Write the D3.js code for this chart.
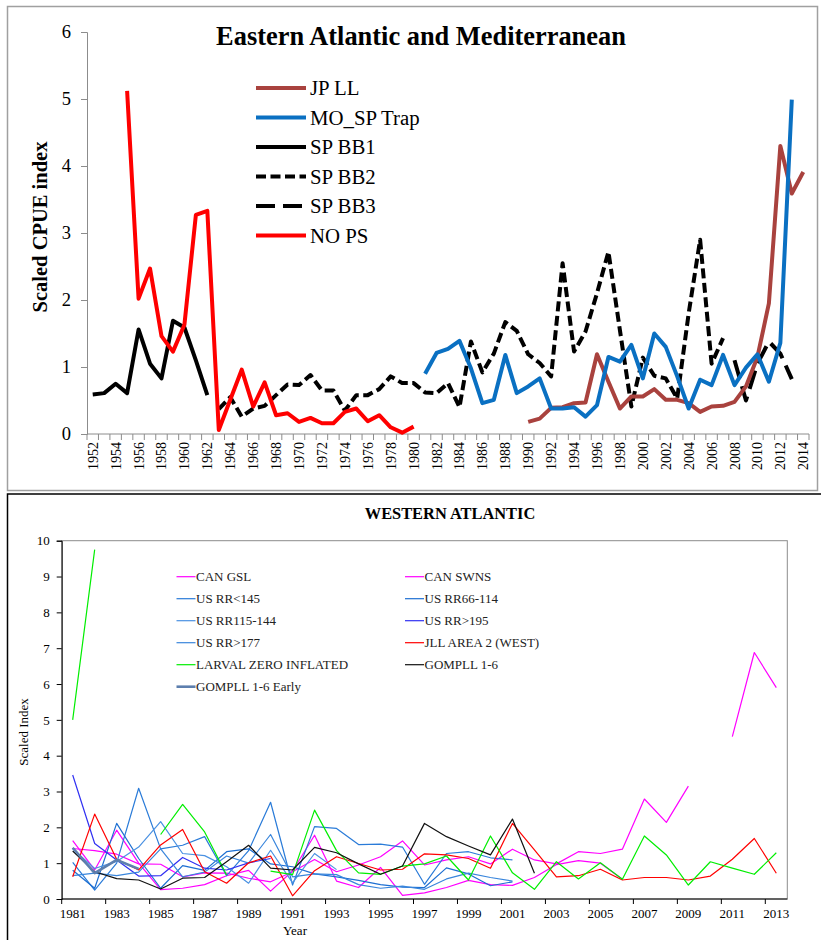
<!DOCTYPE html>
<html>
<head>
  <script src="https://d3js.org/d3.v7.min.js"></script>
  <style>
    body { margin: 0; background: #fff; overflow: hidden; }
    svg { display: block; font-family: "Liberation Serif", "Times New Roman", serif; }
  </style>
  <title>CPUE indices</title>
</head>
<body>
  <script>
    // ---------- Eastern Atlantic and Mediterranean ----------
    const eaYears = [1952,1953,1954,1955,1956,1957,1958,1959,1960,1961,1962,1963,1964,1965,1966,1967,1968,1969,
      1970,1971,1972,1973,1974,1975,1976,1977,1978,1979,1980,1981,1982,1983,1984,1985,1986,1987,1988,1989,
      1990,1991,1992,1993,1994,1995,1996,1997,1998,1999,2000,2001,2002,2003,2004,2005,2006,2007,2008,2009,
      2010,2011,2012,2013,2014];
    const eaTicks = [0, 1, 2, 3, 4, 5, 6];

    // JP LL 1990-2014
    const jpLL = [0.18,0.23,0.39,0.40,0.46,0.47,1.19,0.78,0.38,0.56,0.56,0.67,0.51,0.51,0.46,0.33,0.41,0.42,
      0.48,0.71,1.15,1.95,4.30,3.59,3.91];
    // MO_SP Trap 1981-2013
    const moSPTrap = [0.90,1.21,1.27,1.39,0.98,0.46,0.51,1.18,0.61,0.71,0.83,0.38,0.38,0.40,0.26,0.43,1.15,
      1.08,1.33,0.83,1.50,1.30,0.86,0.38,0.81,0.73,1.18,0.73,0.99,1.19,0.78,1.36,4.99];
    // SP BB1 1952-1962
    const spBB1 = [0.59,0.61,0.75,0.61,1.56,1.05,0.83,1.69,1.59,1.10,0.58];
    // SP BB2 1963-2007
    const spBB2 = [0.37,0.55,0.26,0.38,0.42,0.58,0.74,0.73,0.88,0.65,0.65,0.35,0.58,0.58,0.67,0.86,0.76,0.76,
      0.62,0.61,0.76,0.40,1.38,0.92,1.20,1.67,1.54,1.19,1.06,0.86,2.55,1.23,1.53,2.10,2.72,1.55,0.41,1.14,
      0.87,0.83,0.53,1.80,2.90,1.05,1.43];
    // SP BB3 2008-2013
    const spBB3 = [1.10,0.50,1.05,1.38,1.20,0.82];
    // NO PS 1955-1980
    const noPS = [5.12,2.02,2.47,1.46,1.23,1.63,3.27,3.33,0.06,0.51,0.96,0.41,0.77,0.28,0.31,0.18,0.24,0.16,
      0.16,0.33,0.38,0.19,0.28,0.10,0.02,0.11];

    // ---------- Western Atlantic ----------
    const waYears = [1981,1982,1983,1984,1985,1986,1987,1988,1989,1990,1991,1992,1993,1994,1995,1996,1997,
      1998,1999,2000,2001,2002,2003,2004,2005,2006,2007,2008,2009,2010,2011,2012,2013];
    const waTicks = [0,1,2,3,4,5,6,7,8,9,10];

    // all start in 1981
    const canGSL = [1.63,0.81,1.92,1.00,0.26,0.30,0.40,0.65,0.80,0.22,0.78,1.78,0.50,0.32,0.88,0.10,0.17,0.32,
      0.52,0.40,0.38,0.60,0.96,1.07,1.00,0.55];
    const canSWNS = [1.41,1.35,1.25,0.98,0.97,0.62,0.73,0.72,0.58,0.48,0.76,1.10,0.76,0.95,1.18,1.62,0.95,1.09,
      1.18,0.98,1.39,1.09,0.98,1.32,1.27,1.39,2.79,2.14,3.15,null,4.53,6.88,5.90];
    const usRR145 = [1.02,0.25,1.00,3.09,1.40,1.50,1.74,0.65,1.35,2.70,0.39,2.02,1.97,1.52,1.53,1.45,0.41,1.27,
      1.32,1.15,1.09];
    const usRR66 = [0.80,0.30,2.11,1.13,0.30,0.93,0.80,1.32,1.40,0.98,0.90,0.70,0.62,0.52,0.40,0.33,0.32,0.87,
      0.70,0.37,0.48];
    const usRR115 = [1.40,0.85,1.05,1.45,2.16,1.27,1.21,0.90,0.44,1.36,0.45,1.27,0.82];
    const usRR195 = [3.46,1.55,1.09,0.64,0.65,1.16,0.86,0.81,1.01,1.13];
    const usRR177 = [0.65,0.72,0.65,0.75,1.40,0.62,0.75,1.20,1.00,1.80,0.62,0.70,0.68,0.40,0.30,0.36,0.27,0.56,
      0.72,0.60,0.50];
    const jllArea2 = [0.62,2.37,1.11,0.81,1.51,1.94,0.76,0.44,1.01,1.20,0.09,0.79,1.18,0.99,0.81,0.83,1.26,1.23,
      1.13,0.86,2.11,1.37,0.62,0.65,0.83,0.53,0.60,0.60,0.53,0.64,1.11,1.69,0.72];
    const larval = [5.00,9.75,null,null,1.80,2.64,1.87,0.67,null,0.78,0.68,2.48,1.35,0.73,0.69,0.92,0.98,1.20,
      0.53,1.76,0.73,0.27,1.04,0.56,1.01,0.55,1.76,1.23,0.39,1.04,0.86,0.69,1.29];
    const gompll = [1.34,0.76,0.57,0.53,0.28,0.58,0.60,1.04,1.50,0.86,0.81,1.44,1.29,0.98,0.69,0.92,2.11,1.74,
      1.48,1.23,2.23,0.72];
    const gompllEarly = [1.43,0.72,1.09,0.84];

    const W = 821, H = 940;
    const svg = d3.select("body").append("svg").attr("width", W).attr("height", H);

    // turn a start year + values into points
    function pts(start, vals) {
      return vals.map((v, i) => ({ year: start + i, v: v }));
    }

    // ================= TOP PANEL =================
    svg.append("rect")
      .attr("x", 7.5).attr("y", 6.5).attr("width", 810).attr("height", 484)
      .attr("fill", "#fff").attr("stroke", "#a0a0a0").attr("stroke-width", 1.5);

    const pa = { left: 87, right: 809, top: 32, bottom: 434 };
    const xA = d3.scaleBand().domain(eaYears).range([pa.left, pa.right]).padding(0);
    const yA = d3.scaleLinear().domain([0, 6]).range([pa.bottom, pa.top]);

    // y axis
    const gyA = svg.append("g").attr("transform", "translate(" + pa.left + ",0)")
      .call(d3.axisLeft(yA).tickValues(eaTicks).tickSize(6).tickPadding(10).tickFormat(d3.format("d")));
    gyA.selectAll("path, line").attr("stroke", "#8c8c8c");
    gyA.selectAll("text").style("font-size", "18.5px").style("font-family", "Liberation Serif").attr("fill", "#000");

    // x axis: ticks between categories, labels every other year
    const gxA = svg.append("g").attr("transform", "translate(0," + pa.bottom + ")");
    gxA.append("line").attr("x1", pa.left).attr("x2", pa.right).attr("stroke", "#8c8c8c");
    gxA.selectAll("line.tk").data(eaYears.concat(["end"])).enter().append("line")
      .attr("class", "tk")
      .attr("x1", d => d === "end" ? pa.right : xA(d))
      .attr("x2", d => d === "end" ? pa.right : xA(d))
      .attr("y1", 0).attr("y2", 6).attr("stroke", "#8c8c8c");
    gxA.selectAll("text").data(eaYears.filter((d, i) => i % 2 === 0)).enter().append("text")
      .attr("transform", d => "translate(" + (xA(d) + xA.bandwidth() / 2 + 5) + ",8) rotate(-90)")
      .attr("text-anchor", "end")
      .style("font-size", "14px")
      .text(d => d);

    svg.append("text")
      .attr("x", 421).attr("y", 45).attr("text-anchor", "middle")
      .style("font-size", "26.4px").style("font-weight", "bold")
      .text("Eastern Atlantic and Mediterranean");

    svg.append("text")
      .attr("transform", "translate(47,227) rotate(-90)")
      .attr("text-anchor", "middle")
      .style("font-size", "20.5px").style("font-weight", "bold")
      .text("Scaled CPUE index");

    const eaSeries = [
      { name: "JP LL", data: pts(1990, jpLL), color: "#a9423e", dash: null },
      { name: "MO_SP Trap", data: pts(1981, moSPTrap), color: "#0a70c2", dash: null },
      { name: "SP BB1", data: pts(1952, spBB1), color: "#000", dash: null },
      { name: "SP BB2", data: pts(1963, spBB2), color: "#000", dash: "10,4.5" },
      { name: "SP BB3", data: pts(2008, spBB3), color: "#000", dash: "19,8" },
      { name: "NO PS", data: pts(1955, noPS), color: "#ff0000", dash: null }
    ];

    const lineA = d3.line()
      .defined(d => d.v !== null)
      .x(d => xA(d.year) + xA.bandwidth() / 2)
      .y(d => yA(d.v));

    // draw order so red and blue sit on top like the reference
    const drawOrderA = ["SP BB1", "SP BB2", "SP BB3", "NO PS", "JP LL", "MO_SP Trap"];
    drawOrderA.forEach(n => {
      const s = eaSeries.find(e => e.name === n);
      svg.append("path").datum(s.data)
        .attr("d", lineA)
        .attr("fill", "none").attr("stroke", s.color).attr("stroke-width", 4)
        .attr("stroke-linejoin", "round")
        .attr("stroke-dasharray", s.dash);
    });

    // legend
    const legA = svg.append("g");
    eaSeries.forEach((s, i) => {
      const y = 88 + i * 29.5;
      legA.append("line").attr("x1", 256).attr("x2", 306).attr("y1", y).attr("y2", y)
        .attr("stroke", s.color).attr("stroke-width", 4).attr("stroke-dasharray", s.dash);
      legA.append("text").attr("x", 310).attr("y", y + 7)
        .style("font-size", "20.8px").text(s.name);
    });

    // ================= BOTTOM PANEL =================
    svg.append("rect")
      .attr("x", 7.5).attr("y", 494).attr("width", 840).attr("height", 470)
      .attr("fill", "#fff").attr("stroke", "#000").attr("stroke-width", 1.5);

    const pb = { left: 61.7, right: 787.3, top: 540.7, bottom: 899 };
    const xB = d3.scaleBand().domain(waYears).range([pb.left, pb.right]).padding(0);
    const yB = d3.scaleLinear().domain([0, 10]).range([pb.bottom, pb.top]);

    svg.append("rect")
      .attr("x", pb.left).attr("y", pb.top)
      .attr("width", pb.right - pb.left).attr("height", pb.bottom - pb.top)
      .attr("fill", "none").attr("stroke", "#8c8c8c").attr("stroke-width", 1);

    const gyB = svg.append("g").attr("transform", "translate(" + pb.left + ",0)")
      .call(d3.axisLeft(yB).tickValues(waTicks).tickSize(5).tickPadding(7).tickFormat(d3.format("d")));
    gyB.selectAll("path, line").attr("stroke", "#000");
    gyB.selectAll("text").style("font-size", "13px").style("font-family", "Liberation Serif").attr("fill", "#000");

    const gxB = svg.append("g").attr("transform", "translate(0," + pb.bottom + ")");
    gxB.append("line").attr("x1", pb.left).attr("x2", pb.right).attr("stroke", "#000");
    gxB.selectAll("line.tk").data(waYears.filter((d, i) => i % 2 === 0)).enter().append("line")
      .attr("class", "tk")
      .attr("x1", d => xB(d)).attr("x2", d => xB(d))
      .attr("y1", 0).attr("y2", 5).attr("stroke", "#000");
    gxB.selectAll("text").data(waYears.filter((d, i) => i % 2 === 0)).enter().append("text")
      .attr("x", d => xB(d) + xB.bandwidth() / 2)
      .attr("y", 19)
      .attr("text-anchor", "middle")
      .style("font-size", "13px")
      .text(d => d);

    svg.append("text")
      .attr("x", 450).attr("y", 519).attr("text-anchor", "middle")
      .style("font-size", "16.4px").style("font-weight", "bold")
      .text("WESTERN ATLANTIC");

    svg.append("text")
      .attr("x", 295).attr("y", 935).attr("text-anchor", "middle")
      .style("font-size", "13px").text("Year");

    svg.append("text")
      .attr("transform", "translate(28,732) rotate(-90)")
      .attr("text-anchor", "middle")
      .style("font-size", "13px").text("Scaled Index");

    const waSeries = [
      { name: "CAN GSL", data: pts(1981, canGSL), color: "#ff00ff", w: 1.2 },
      { name: "CAN SWNS", data: pts(1981, canSWNS), color: "#ff00ff", w: 1.2 },
      { name: "US RR<145", data: pts(1981, usRR145), color: "#2a7bd8", w: 1.2 },
      { name: "US RR66-114", data: pts(1981, usRR66), color: "#1d6fd2", w: 1.2 },
      { name: "US RR115-144", data: pts(1981, usRR115), color: "#4a91e2", w: 1.2 },
      { name: "US RR>195", data: pts(1981, usRR195), color: "#3030f2", w: 1.2 },
      { name: "US RR>177", data: pts(1981, usRR177), color: "#3a86dc", w: 1.2 },
      { name: "JLL AREA 2 (WEST)", data: pts(1981, jllArea2), color: "#ff0000", w: 1.2 },
      { name: "LARVAL ZERO INFLATED", data: pts(1981, larval), color: "#00ee00", w: 1.2 },
      { name: "GOMPLL 1-6", data: pts(1981, gompll), color: "#111", w: 1.2 },
      { name: "GOMPLL 1-6 Early", data: pts(1981, gompllEarly), color: "#5d7fae", w: 2.6 }
    ];

    const lineB = d3.line()
      .defined(d => d.v !== null)
      .x(d => xB(d.year) + xB.bandwidth() / 2)
      .y(d => yB(d.v));

    waSeries.forEach(s => {
      svg.append("path").datum(s.data)
        .attr("d", lineB)
        .attr("fill", "none").attr("stroke", s.color).attr("stroke-width", s.w)
        .attr("stroke-linejoin", "round");
    });

    // legend, two columns
    const legB = svg.append("g");
    waSeries.forEach((s, i) => {
      const col = i % 2, row = Math.floor(i / 2);
      const x0 = col === 0 ? 176.5 : 405;
      const y = 576.7 + row * 22;
      legB.append("line").attr("x1", x0).attr("x2", x0 + 19).attr("y1", y).attr("y2", y)
        .attr("stroke", s.color).attr("stroke-width", s.w);
      legB.append("text").attr("x", x0 + 19.5).attr("y", y + 4.5)
        .style("font-size", "13px").attr("fill", "#222").text(s.name);
    });
  </script>
</body>
</html>
